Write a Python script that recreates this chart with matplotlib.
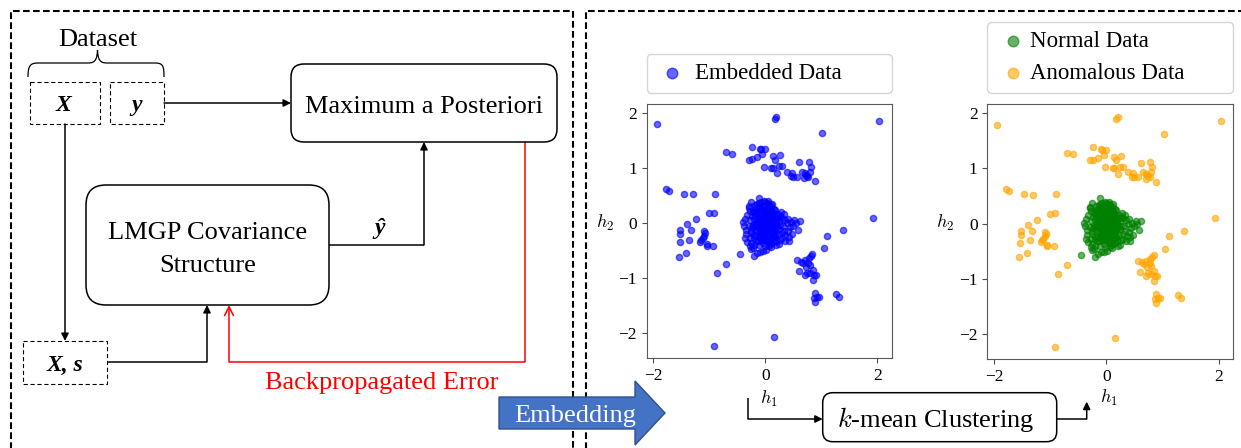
import numpy as np
import matplotlib.pyplot as plt
from matplotlib.patches import FancyBboxPatch, Rectangle, Polygon, PathPatch
from matplotlib.path import Path

# ---- data: latent positions (h1, h2) ----
normal_h1 = [-0.15, -0.12, -0.10, -0.08, -0.05, -0.03, 0.00, 0.02, 0.04, 0.06, 0.08, 0.10,
             0.12, 0.14, 0.16, -0.18, -0.14, -0.10, -0.06, -0.02, 0.02, 0.06, 0.10, 0.14,
             0.18, -0.20, -0.16, -0.12, -0.06, -0.02, 0.03, 0.07, 0.11, 0.15, 0.19, 0.20,
             -0.22, -0.24, -0.26, -0.20, -0.08, 0.00, 0.05, 0.12, 0.18, 0.22, 0.25, 0.24,
             0.22, -0.04, 0.04, 0.10, -0.10, -0.16, -0.28, -0.30, -0.32, -0.28, -0.34, -0.28,
             -0.16, -0.04, 0.08, 0.16, 0.26, 0.30, 0.32, 0.30, -0.07, -0.01, 0.05, 0.09,
             -0.11, -0.05, 0.01, 0.07, 0.13, -0.17, -0.13, -0.09, 0.03, 0.08, 0.13, -0.19,
             0.17, -0.23, -0.01, 0.00, -0.04, 0.04, -0.12, -0.12, 0.00, 0.05, -0.18, 0.12,
             -0.38, -0.36, -0.34, -0.40, -0.25, -0.33, -0.28, -0.20, -0.12, 0.00, 0.10, 0.20,
             0.36, 0.40, 0.38, 0.44, 0.35, 0.48, 0.50, 0.46, 0.55, 0.58, 0.62, 0.52,
             0.40, 0.42, 0.30, 0.35, -0.46, -0.21, -0.15, -0.10, -0.04, -0.26, 0.02, 0.27,
             -0.30, 0.15, -0.07, 0.09, 0.18, -0.22, 0.26, -0.14, 0.33, 0.01, -0.09,
             -0.21, -0.17, -0.13, -0.09, -0.05, -0.01, 0.03, 0.07, 0.11, 0.15, 0.19, 0.23,
             -0.19, -0.15, -0.11, -0.07, -0.03, 0.01, 0.05, 0.09, 0.13, 0.17, 0.21,
             -0.25, -0.21, -0.17, -0.13, -0.09, -0.05, -0.01, 0.03, 0.07, 0.11, 0.15, 0.19,
             -0.14, -0.08, -0.02, 0.04, 0.10, 0.16,
             -0.30, -0.26, 0.28, 0.34, 0.42, -0.36, -0.22, 0.06, 0.24]
normal_h2 = [0.05, 0.10, -0.02, 0.15, 0.05, -0.08, 0.00, 0.12, -0.05, 0.08, -0.12, 0.02,
             0.15, -0.08, 0.05, -0.10, -0.15, -0.20, -0.18, -0.22, -0.16, -0.24, -0.18, -0.20,
             -0.14, 0.08, 0.18, 0.22, 0.25, 0.20, 0.25, 0.20, 0.22, 0.18, 0.10, -0.02,
             -0.03, 0.12, -0.14, -0.22, -0.30, -0.30, -0.33, -0.28, -0.26, -0.20, -0.10, 0.04,
             0.16, 0.30, 0.33, 0.28, 0.30, 0.27, 0.05, -0.06, 0.15, 0.22, -0.20, -0.28,
             -0.32, -0.36, -0.38, -0.35, -0.30, -0.18, -0.05, 0.10, 0.02, 0.06, 0.01, -0.04,
             -0.08, -0.12, -0.10, -0.14, -0.02, 0.00, 0.04, 0.08, 0.08, 0.12, 0.08, 0.14,
             -0.08, -0.08, 0.16, -0.05, -0.02, 0.04, 0.46, 0.36, 0.38, 0.40, 0.32, 0.35,
             -0.05, 0.08, -0.12, 0.02, -0.36, -0.34, -0.42, -0.40, -0.40, -0.42, -0.44, -0.40,
             -0.22, -0.15, 0.00, -0.08, 0.06, -0.20, -0.05, 0.02, 0.00, -0.12, 0.04, 0.05,
             0.08, -0.25, -0.28, -0.32, -0.56, -0.60, -0.55, -0.52, -0.51, -0.47, -0.49, 0.12,
             0.28, -0.12, -0.26, 0.18, 0.24, 0.20, -0.04, -0.06, -0.14, 0.20, -0.16,
             0.20, 0.24, 0.18, 0.28, 0.10, 0.24, 0.18, 0.30, 0.06, 0.12, 0.02, 0.10,
             -0.04, -0.06, 0.00, -0.12, 0.12, -0.18, -0.08, 0.16, -0.14, -0.22, -0.08,
             -0.18, -0.28, -0.24, -0.32, -0.24, -0.30, -0.28, -0.24, -0.30, -0.36, -0.26, -0.32,
             0.34, 0.38, 0.40, 0.36, 0.32, 0.26,
             0.30, 0.38, 0.20, 0.16, -0.32, -0.28, -0.46, -0.42, -0.38]

anomalous_h1 = [-1.94, 0.18, 0.20, 2.04, 1.02, -0.70, -0.60, -0.24, -0.29, -0.23, -0.15,
                -0.10, -0.07, -0.01, -0.05, 0.13, 0.18, 0.26, -0.02, 0.11, 0.13, 0.24, 0.29,
                0.21, 0.39, 0.47, 0.46, 0.50, 0.57, 0.61, 0.78, 0.81, 0.65, 0.71, 0.74, 0.70,
                0.77, 0.80, 0.88, 0.72, -1.78, -1.73, -1.46, -1.30, -0.90, -1.01, -0.92, -1.23,
                -1.40, -1.52, -1.52, -1.33, -1.10, -1.08, -1.09, -1.15, -1.17, -1.12, -1.05,
                -1.05, -1.36, -1.41, -1.53, -1.55, -0.93, -0.70, -0.86, 0.15, -0.91, 1.93,
                1.11, 1.39, 1.05, 0.56, 0.63, 0.67, 0.71, 0.60, 0.73, 0.77, 0.78, 0.81, 0.84,
                0.80, 0.85, 0.74, 0.80, 0.87, 0.85, 0.90, 0.71, 0.89, 0.87, 0.92, 0.96, 1.27,
                1.32, 0.89]
anomalous_h2 = [1.79, 1.89, 1.93, 1.85, 1.63, 1.28, 1.26, 1.38, 1.15, 1.16, 1.19,
                1.35, 1.34, 1.34, 1.25, 1.21, 1.15, 1.23, 1.02, 1.00, 1.00, 1.03, 1.03,
                0.90, 0.93, 0.91, 0.85, 0.84, 0.84, 1.10, 1.11, 1.02, 0.93, 0.90, 0.86, 0.81,
                0.84, 0.93, 0.76, 0.88, 0.62, 0.59, 0.53, 0.52, 0.53, 0.18, 0.19, 0.07,
                -0.02, -0.13, -0.20, -0.13, -0.15, -0.18, -0.23, -0.30, -0.34, -0.27, -0.38,
                -0.41, -0.30, -0.54, -0.35, -0.61, -0.41, -0.74, -0.91, -2.07, -2.24, 0.10,
                -0.23, -0.13, -0.45, -0.67, -0.70, -0.73, -0.67, -0.87, -0.79, -0.72, -0.64,
                -0.60, -0.57, -0.76, -0.85, -0.90, -0.91, -0.94, -1.03, -0.95, -0.94, -1.27,
                -1.37, -1.35, -1.35, -1.29, -1.34, -1.43]

embedded_h1 = normal_h1 + anomalous_h1
embedded_h2 = normal_h2 + anomalous_h2

plt.rcParams['font.family'] = ['Liberation Serif', 'DejaVu Serif']
plt.rcParams['mathtext.fontset'] = 'cm'

W, H = 1241, 448
fig = plt.figure(figsize=(W / 100, H / 100), dpi=100)

# full-figure canvas in pixel units for the diagram
ax = fig.add_axes([0, 0, 1, 1], zorder=0)
ax.set_xlim(0, W)
ax.set_ylim(H, 0)
ax.axis('off')

TXT = 19
panel_ls = (0, (3.2, 1.6))
box_ls = (0, (3.8, 2.4))

# dashed panels
ax.plot([11, 11, 572.5, 572.5], [H + 5, 11, 11, H + 5], color='k', lw=1.5, ls=panel_ls)
ax.plot([586, 586, W + 5], [H + 5, 11, 11], color='k', lw=1.5, ls=panel_ls)


def rbox(x0, y0, x1, y1, r):
    ax.add_patch(FancyBboxPatch((x0, y0), x1 - x0, y1 - y0,
                                boxstyle=f"round,pad=0,rounding_size={r}",
                                fc='white', ec='k', lw=1.1, zorder=3))


def dbox(x0, y0, x1, y1):
    ax.add_patch(Rectangle((x0, y0), x1 - x0, y1 - y0, fill=False, ec='k',
                           lw=0.8, ls=box_ls, zorder=3))


def arrow(pts, color='k', style='-|>', ms=11):
    xs = [p[0] for p in pts]
    ys = [p[1] for p in pts]
    ax.plot(xs[:-1], ys[:-1], color=color, lw=1.1, solid_capstyle='butt', zorder=2)
    ax.annotate('', xy=pts[-1], xytext=pts[-2],
                arrowprops=dict(arrowstyle=style, color=color, lw=1.1,
                                mutation_scale=ms, shrinkA=0, shrinkB=0), zorder=2)


# dataset brace
verts = [(28, 77), (28, 66), (30, 63), (38, 63), (88, 63), (95, 63), (97, 60), (97.5, 50),
         (98, 60), (100, 63), (107, 63), (155, 63), (163, 63), (164, 66), (164, 77)]
codes = [Path.MOVETO, Path.CURVE4, Path.CURVE4, Path.CURVE4, Path.LINETO,
         Path.CURVE4, Path.CURVE4, Path.CURVE4, Path.CURVE4, Path.CURVE4, Path.CURVE4,
         Path.LINETO, Path.CURVE4, Path.CURVE4, Path.CURVE4]
ax.add_patch(PathPatch(Path(verts, codes), fill=False, ec='k', lw=0.9))
ax.text(98, 46, 'Dataset', fontsize=TXT, ha='center', va='baseline')

dbox(30, 82, 100, 124)
dbox(110, 82, 164, 124)
dbox(23, 341, 107, 384)
ax.text(63, 111, 'X', fontsize=17, fontweight='bold', style='italic', ha='center', va='baseline')
ax.text(137, 111, 'y', fontsize=17, fontweight='bold', style='italic', ha='center', va='baseline')
ax.text(65, 371, 'X, s', fontsize=17, fontweight='bold', style='italic', ha='center', va='baseline')

rbox(291, 64, 557, 142, 13)
ax.text(424, 113, 'Maximum a Posteriori', fontsize=TXT, ha='center', va='baseline', zorder=4)
rbox(86, 185, 329, 305, 20)
ax.text(207.5, 239, 'LMGP Covariance', fontsize=TXT, ha='center', va='baseline', zorder=4)
ax.text(207.5, 272, 'Structure', fontsize=TXT, ha='center', va='baseline', zorder=4)
ax.text(380, 234, '\u0177', fontsize=17, fontweight='bold', style='italic', ha='center', va='baseline')

arrow([(164, 103), (291, 103)])
arrow([(65, 124), (65, 341)])
arrow([(107, 362), (207, 362), (207, 305)])
arrow([(329, 245), (424, 245), (424, 142)])
arrow([(525, 142), (525, 362), (229, 362), (229, 305)], color='red', style='->', ms=16)
ax.text(381.5, 389, 'Backpropagated Error', fontsize=TXT, color='red', ha='center', va='baseline')

# embedding block arrow
ax.add_patch(Polygon([(499, 397), (635, 397), (635, 381), (665, 413), (635, 445),
                      (635, 429), (499, 429)], closed=True, fc='#4472C4', ec='#2F528F',
                     lw=1, zorder=5))
ax.text(575, 422, 'Embedding', fontsize=TXT, color='white', ha='center', va='baseline', zorder=6)

# k-mean clustering
rbox(822.7, 392.7, 1056.7, 441.7, 10)
ax.text(936, 427, '$k$-mean Clustering', fontsize=TXT, ha='center', va='baseline', zorder=4)
arrow([(748, 398), (748, 419), (822.7, 419)])
arrow([(1056.7, 419), (1086.7, 419), (1086.7, 401.7)])


def px_axes(l, t, r, b):
    return fig.add_axes([l / W, 1 - b / H, (r - l) / W, (b - t) / H], zorder=2)


def style_axes(a):
    a.set_xlim(-2.12, 2.26)
    a.set_ylim(-2.45, 2.16)
    a.set_xticks([-2, 0, 2])
    a.set_yticks([-2, -1, 0, 1, 2])
    a.tick_params(labelsize=12.5, length=3.5, width=0.8, color='0.3')
    for s in a.spines.values():
        s.set_color('0.35')
        s.set_linewidth(0.8)
    a.set_xlabel('$h_1$', fontsize=13)
    a.set_ylabel('$h_2$', fontsize=13, rotation=0, va='center', ha='center')


leg_kw = dict(loc='lower left', mode='expand', borderaxespad=0, fontsize=16.5,
              handlelength=1.4, markerscale=1.7, frameon=True,
              fancybox=True, edgecolor='0.8')

a1 = px_axes(646.7, 104, 891.7, 358)
a1.scatter(embedded_h1, embedded_h2, s=20, color='blue', alpha=0.6, label='Embedded Data')
style_axes(a1)
a1.xaxis.set_label_coords(0.5, -0.122)
a1.yaxis.set_label_coords(-0.170, 0.53)
a1.legend(bbox_to_anchor=(0, 1 + 11 / 254, 1, 0), handletextpad=0.3, **leg_kw)

a2 = px_axes(987.3, 104.3, 1233.3, 359)
a2.scatter(normal_h1, normal_h2, s=20, color='green', alpha=0.6, label='Normal Data')
a2.scatter(anomalous_h1, anomalous_h2, s=20, color='orange', alpha=0.6, label='Anomalous Data')
style_axes(a2)
a2.xaxis.set_label_coords(0.495, -0.114)
a2.yaxis.set_label_coords(-0.172, 0.535)
a2.legend(bbox_to_anchor=(0, 1 + 11.6 / 255, 1, 0), handletextpad=0.05,
          labelspacing=0.45, **leg_kw)

fig.savefig('out.png', dpi=100)
